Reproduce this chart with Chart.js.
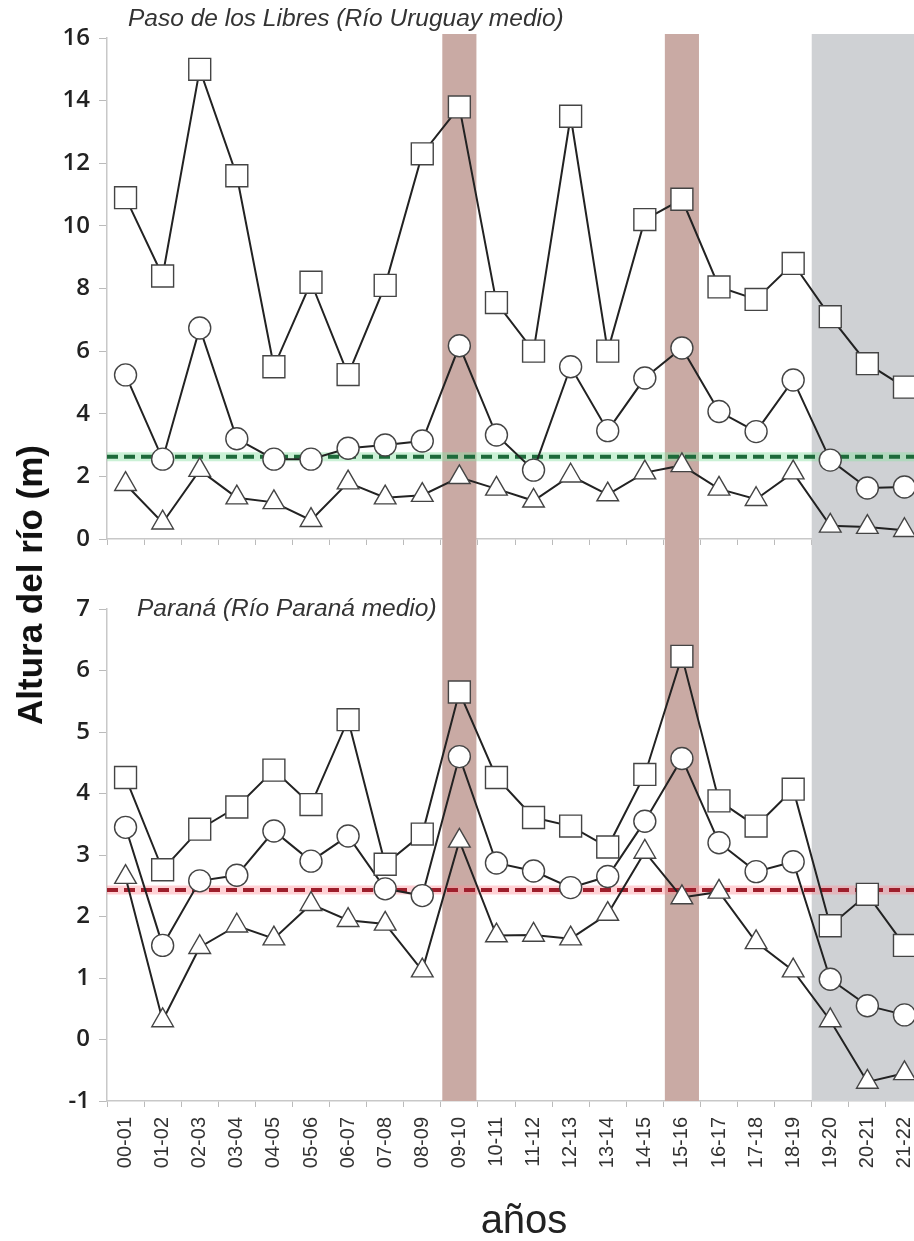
<!DOCTYPE html>
<html lang="es">
<head>
<meta charset="utf-8">
<script src="https://cdn.jsdelivr.net/npm/chart.js"></script>
<style>
  html, body { margin: 0; padding: 0; background: #fff; overflow: hidden; }
  #wrap { position: relative; width: 930px; height: 1241px; }
  canvas { position: absolute; left: 0; }
  #c1 { top: 0; }
  #c2 { top: 575px; }
  .panel { position: absolute; font: italic 24.5px "Liberation Sans", Arial, sans-serif; line-height: 24px; color: #333; white-space: nowrap; }
  #yTitle { position: absolute; left: 30px; top: 585px; transform: translate(-50%, -50%) rotate(-90deg);
            font: bold 35px "Liberation Sans", Arial, sans-serif; line-height: 36px; color: #111; white-space: nowrap; }
  #xTitle { position: absolute; left: 524px; top: 1219px; transform: translate(-50%, -50%);
            font: 40px "Liberation Sans", Arial, sans-serif; line-height: 48px; color: #222; white-space: nowrap; }
</style>
</head>
<body>
<div id="wrap">
  <canvas id="c1" width="930" height="575"></canvas>
  <canvas id="c2" width="930" height="666"></canvas>
  <div class="panel" style="left:128px; top:6px;">Paso de los Libres (Río Uruguay medio)</div>
  <div class="panel" style="left:137px; top:596px;">Paraná (Río Paraná medio)</div>
  <div id="yTitle">Altura del río (m)</div>
  <div id="xTitle">años</div>
</div>
<script>
const anios = ['00-01', '01-02', '02-03', '03-04', '04-05', '05-06', '06-07', '07-08', '08-09', '09-10', '10-11',
               '11-12', '12-13', '13-14', '14-15', '15-16', '16-17', '17-18', '18-19', '19-20', '20-21', '21-22'];

// Paso de los Libres (Río Uruguay medio)
const pasoMax   = [10.9, 8.4, 15.0, 11.6, 5.5, 8.2, 5.25, 8.1, 12.3, 13.8, 7.55, 6.0, 13.5, 6.0, 10.2, 10.85, 8.05, 7.65, 8.8, 7.1, 5.6, 4.85];
const pasoMedia = [5.24, 2.55, 6.74, 3.2, 2.55, 2.55, 2.9, 3.0, 3.13, 6.17, 3.32, 2.2, 5.5, 3.46, 5.14, 6.1, 4.07, 3.43, 5.08, 2.52, 1.63, 1.66];
const pasoMin   = [1.75, 0.52, 2.2, 1.32, 1.17, 0.6, 1.8, 1.32, 1.4, 1.97, 1.6, 1.22, 2.02, 1.42, 2.12, 2.35, 1.6, 1.27, 2.12, 0.42, 0.38, 0.28];
const umbralPaso = 2.63;

// Paraná (Río Paraná medio)
const paranaMax   = [4.26, 2.76, 3.42, 3.78, 4.38, 3.82, 5.2, 2.85, 3.34, 5.65, 4.26, 3.61, 3.47, 3.13, 4.31, 6.23, 3.88, 3.47, 4.07, 1.85, 2.36, 1.53];
const paranaMedia = [3.45, 1.53, 2.58, 2.67, 3.39, 2.9, 3.31, 2.45, 2.34, 4.6, 2.87, 2.74, 2.47, 2.65, 3.55, 4.57, 3.2, 2.73, 2.89, 0.98, 0.55, 0.4];
const paranaMin   = [2.64, 0.31, 1.5, 1.85, 1.64, 2.2, 1.94, 1.88, 1.12, 3.23, 1.69, 1.7, 1.64, 2.04, 3.05, 2.31, 2.4, 1.58, 1.12, 0.31, -0.69, -0.55];
const umbralParana = 2.43;

const bandasHumedas = ['09-10', '15-16'];
const inicioSeca = '19-20';

// bandas verticales + linea de umbral, detras de las series
const fondo = {
  id: 'fondo',
  beforeDatasetsDraw(chart, args, opts) {
    const {ctx, chartArea, scales: {x, y}} = chart;
    const top = opts.arriba ? chartArea.top - 4 : 0;
    const bottom = opts.arriba ? chart.height : chartArea.bottom;
    const paso = x.getPixelForValue(1) - x.getPixelForValue(0);
    ctx.save();
    ctx.fillStyle = '#c9aaa4';
    bandasHumedas.forEach(a => {
      const cx = x.getPixelForValue(anios.indexOf(a));
      ctx.fillRect(cx - paso * 0.46, top, paso * 0.92, bottom - top);
    });
    ctx.fillStyle = '#cfd1d4';
    const gx = x.getPixelForValue(anios.indexOf(inicioSeca) - 0.5);
    ctx.fillRect(gx, top, chart.width - gx, bottom - top);

    const py = y.getPixelForValue(opts.umbral);
    ctx.strokeStyle = opts.halo;
    ctx.lineWidth = 9;
    ctx.beginPath();
    ctx.moveTo(chartArea.left, py);
    ctx.lineTo(chartArea.right, py);
    ctx.stroke();
    ctx.strokeStyle = opts.color;
    ctx.lineWidth = 4;
    ctx.setLineDash([11, 6]);
    ctx.beginPath();
    ctx.moveTo(chartArea.left, py);
    ctx.lineTo(chartArea.right, py);
    ctx.stroke();
    ctx.restore();
  }
};

function serie(data, estilo, radio) {
  return {
    data: data,
    borderColor: '#222',
    borderWidth: 2,
    pointStyle: estilo,
    pointRadius: radio,
    pointBackgroundColor: '#fff',
    pointBorderColor: '#444',
    pointBorderWidth: 1.4,
    tension: 0,
    clip: false
  };
}

function ejeY(min, max, paso) {
  return {
    min: min, max: max,
    afterFit: s => { s.width = 107; },
    border: { color: '#c8c8c8', width: 1.5 },
    grid: { drawOnChartArea: false, tickLength: 8, color: '#bbb' },
    ticks: { stepSize: paso, padding: 9, color: '#222', font: { family: 'Open Sans', size: 24, weight: '600' } }
  };
}

new Chart(document.getElementById('c1'), {
  type: 'line',
  data: {
    labels: anios,
    datasets: [serie(pasoMax, 'rect', 15.5), serie(pasoMedia, 'circle', 11), serie(pasoMin, 'triangle', 12.5)]
  },
  options: {
    responsive: false,
    animation: false,
    layout: { autoPadding: false, padding: { top: 38, right: 7, left: 0, bottom: 0 } },
    plugins: {
      legend: { display: false },
      tooltip: { enabled: false },
      fondo: { arriba: true, umbral: umbralPaso, color: '#1d6a3a', halo: 'rgba(140,225,165,0.45)' }
    },
    scales: {
      x: {
        offset: true,
        afterFit: s => { s.height = 36; },
        border: { color: '#c8c8c8', width: 1.5 },
        grid: { offset: true, drawOnChartArea: false, tickLength: 6, color: '#bbb' },
        ticks: { display: false }
      },
      y: ejeY(0, 16, 2)
    }
  },
  plugins: [fondo]
});

new Chart(document.getElementById('c2'), {
  type: 'line',
  data: {
    labels: anios,
    datasets: [serie(paranaMax, 'rect', 15.5), serie(paranaMedia, 'circle', 11), serie(paranaMin, 'triangle', 12.5)]
  },
  options: {
    responsive: false,
    animation: false,
    layout: { autoPadding: false, padding: { top: 34, right: 7, left: 0, bottom: 0 } },
    plugins: {
      legend: { display: false },
      tooltip: { enabled: false },
      fondo: { arriba: false, umbral: umbralParana, color: '#9e1f2c', halo: 'rgba(255,140,150,0.4)' }
    },
    scales: {
      x: {
        offset: true,
        // same plot width as the upper panel: ignore the extra room the rotated labels ask for
        afterFit: s => { s.height = 140; s.paddingLeft = 0; s.paddingRight = 0; },
        border: { color: '#c8c8c8', width: 1.5 },
        grid: { offset: true, drawOnChartArea: false, tickLength: 6, color: '#bbb' },
        ticks: { autoSkip: false, minRotation: 90, maxRotation: 90, padding: 10, color: '#333',
                 font: { family: 'Liberation Sans', size: 20 } }
      },
      y: ejeY(-1, 7, 1)
    }
  },
  plugins: [fondo]
});
</script>
</body>
</html>
